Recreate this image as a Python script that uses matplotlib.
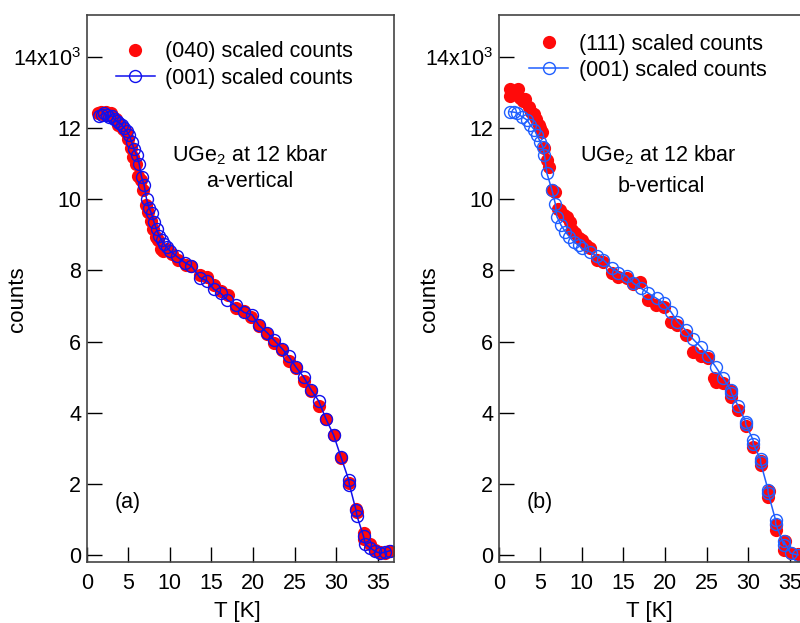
import matplotlib
matplotlib.use("Agg")
import matplotlib.pyplot as plt

plt.rcParams['font.family'] = ['Liberation Sans', 'DejaVu Sans']
plt.rcParams['mathtext.fontset'] = 'custom'
plt.rcParams['mathtext.rm'] = 'Liberation Sans'

# panel (a): a-vertical, counts in units of 1000
t_040 = [1.3, 1.7, 2.0, 2.3, 2.6, 2.9, 3.2, 3.5, 3.8, 4.1, 4.4, 4.7, 5.0, 5.3,
         5.6, 5.9, 6.2, 6.5, 6.8, 7.1, 7.4, 7.7, 8.0, 8.3, 8.6, 8.9, 9.2, 9.6,
         10.2, 11.0, 12.0, 12.6, 13.6, 14.5, 15.3, 16.1, 17.0, 17.9, 18.9, 19.8,
         20.7, 21.7, 22.5, 23.5, 24.3, 25.2, 26.1, 27.0, 27.9, 28.8, 29.7, 30.6,
         31.5, 32.4, 32.5, 33.3, 33.4, 34.1, 34.7, 35.3, 35.9, 36.4]
c_040 = [12.42, 12.44, 12.40, 12.45, 12.40, 12.42, 12.32, 12.25, 12.10, 12.05,
         11.98, 11.90, 11.70, 11.45, 11.20, 11.00, 10.65, 10.55, 10.25, 9.85,
         9.65, 9.40, 9.15, 8.95, 8.85, 8.60, 8.55, 8.60, 8.45, 8.30, 8.15, 8.12,
         7.87, 7.82, 7.60, 7.42, 7.30, 6.95, 6.85, 6.70, 6.45, 6.20, 5.95, 5.75,
         5.45, 5.25, 4.90, 4.60, 4.18, 3.82, 3.38, 2.72, 2.03, 1.30, 1.20, 0.62,
         0.45, 0.30, 0.15, 0.08, 0.05, 0.10]

t_001a = [1.5, 1.8, 2.1, 2.4, 2.7, 3.0, 3.3, 3.6, 3.9, 4.2, 4.5, 4.8, 5.1, 5.4,
          5.7, 6.0, 6.3, 6.6, 6.9, 7.2, 7.5, 7.8, 8.1, 8.4, 8.7, 9.0, 9.3, 9.6,
          10.0, 10.8, 11.8, 12.6, 13.6, 14.5, 15.3, 16.1, 16.9, 17.9, 18.9, 19.9,
          20.7, 21.7, 22.5, 23.5, 24.3, 25.2, 26.1, 27.0, 27.9, 28.8, 29.7, 30.6,
          31.5, 31.6, 32.4, 32.5, 33.3, 33.5, 34.1, 34.7, 35.3, 35.9, 36.5]
c_001a = [12.33, 12.38, 12.42, 12.36, 12.30, 12.35, 12.25, 12.20, 12.15, 12.10,
          12.00, 11.92, 11.80, 11.62, 11.40, 11.25, 11.00, 10.62, 10.40, 10.00,
          9.75, 9.60, 9.35, 9.15, 8.98, 8.85, 8.75, 8.65, 8.55, 8.40, 8.22, 8.12,
          7.80, 7.70, 7.47, 7.36, 7.17, 7.02, 6.82, 6.75, 6.46, 6.25, 6.05, 5.80,
          5.58, 5.27, 5.00, 4.64, 4.33, 3.81, 3.37, 2.74, 2.12, 1.97, 1.25, 1.10,
          0.52, 0.30, 0.20, 0.10, 0.05, 0.08, 0.12]

# panel (b): b-vertical
t_111 = [1.35, 1.4, 1.7, 2.0, 2.3, 2.6, 2.9, 3.2, 3.6, 3.9, 4.2, 4.5, 4.8, 5.0,
         5.2, 5.5, 5.8, 6.1, 6.4, 6.8, 7.1, 7.4, 7.8, 8.2, 8.6, 8.8, 9.2, 9.6,
         10.0, 10.5, 11.0, 11.8, 12.6, 13.6, 14.4, 15.4, 16.2, 17.0, 17.9, 18.9,
         19.9, 20.7, 21.5, 22.5, 23.4, 24.3, 25.2, 25.9, 26.1, 27.0, 27.9, 28.0,
         28.8, 29.7, 30.6, 31.5, 31.6, 32.4, 32.5, 33.3, 33.4, 34.3, 34.4, 35.1,
         36.0]
c_111 = [13.10, 12.90, 12.95, 13.05, 13.10, 12.85, 12.75, 12.83, 12.60, 12.45,
         12.41, 12.25, 12.10, 12.00, 11.90, 11.43, 11.10, 10.90, 10.25, 10.20,
         9.74, 9.70, 9.55, 9.51, 9.37, 9.13, 9.04, 8.90, 8.85, 8.70, 8.62, 8.29,
         8.25, 7.92, 7.82, 7.78, 7.62, 7.68, 7.17, 7.03, 6.98, 6.56, 6.46, 6.18,
         5.71, 5.60, 5.54, 4.97, 4.87, 4.83, 4.45, 4.60, 4.07, 3.62, 3.04, 2.53,
         2.65, 1.64, 1.80, 0.70, 0.85, 0.14, 0.40, 0.05, 0.02]

t_001b = [1.36, 1.8, 2.2, 2.8, 3.4, 3.8, 4.3, 4.6, 5.0, 5.3, 5.5, 5.8, 6.4, 6.8,
          7.0, 7.5, 8.0, 8.5, 9.0, 9.6, 10.0, 11.0, 11.8, 12.6, 13.6, 14.4, 15.4,
          16.2, 17.1, 18.0, 19.0, 19.9, 20.7, 21.5, 22.5, 23.4, 24.3, 25.2, 26.1,
          27.0, 27.9, 28.0, 28.8, 29.7, 29.7, 30.6, 30.6, 31.5, 31.5, 32.4, 32.4,
          33.3, 33.3, 34.3, 34.3, 35.1, 36.0]
c_001b = [12.46, 12.45, 12.43, 12.32, 12.23, 12.09, 11.95, 11.80, 11.62, 11.48,
          11.24, 10.73, 10.26, 9.88, 9.51, 9.27, 9.09, 8.95, 8.81, 8.71, 8.62,
          8.52, 8.40, 8.29, 8.06, 7.94, 7.84, 7.64, 7.50, 7.36, 7.21, 7.07, 6.84,
          6.56, 6.32, 6.06, 5.85, 5.59, 5.29, 4.97, 4.64, 4.55, 4.19, 3.75, 3.68,
          3.23, 3.12, 2.69, 2.60, 1.83, 1.75, 0.98, 0.88, 0.28, 0.38, 0.05, 0.00]

yticks = [0, 2, 4, 6, 8, 10, 12, 14]
ytick_labels = ['0', '2', '4', '6', '8', '10', '12', '14x10$^3$']
xticks = [0, 5, 10, 15, 20, 25, 30, 35]

fig = plt.figure(figsize=(8.0, 6.23), dpi=100)
ax1 = fig.add_axes([0.1084, 0.0984, 0.3845, 0.8775])
ax2 = fig.add_axes([0.6234, 0.0984, 0.3845, 0.8775])


def setup(ax):
    ax.set_xlim(0, 37)
    ax.set_ylim(-0.19, 15.18)
    ax.set_xticks(xticks)
    ax.set_yticks(yticks)
    ax.set_yticklabels(ytick_labels)
    ax.tick_params(direction='in', length=11, width=1.0, labelsize=15.5,
                   top=False, right=False)
    ax.tick_params(axis='x', pad=8)
    ax.tick_params(axis='y', pad=4)
    for s in ax.spines.values():
        s.set_color('#444444')
        s.set_linewidth(1.2)
    ax.set_xlabel('T [K]', fontsize=16)
    ax.set_ylabel('counts', fontsize=16)
    ax.xaxis.set_label_coords(0.49, -0.072)
    ax.yaxis.set_label_coords(-0.19, 0.48)


setup(ax1)
ax1.plot(t_040, c_040, 'o', color='#ff0a0a', ms=9.5, mec='none',
         label='(040) scaled counts')
ax1.plot(t_001a, c_001a, '-o', color='#1010ee', lw=1.1, ms=8.6, mfc='none',
         mew=1.0, label='(001) scaled counts')
ax1.legend(loc='upper left', bbox_to_anchor=(0.095, 0.952), frameon=False,
           fontsize=15.5, handlelength=1.8, handletextpad=0.5, labelspacing=0.25,
           borderpad=0, borderaxespad=0)
ax1.text(0.531, 0.744, 'UGe$_2$ at 12 kbar', transform=ax1.transAxes,
         ha='center', va='center', fontsize=15.5)
ax1.text(0.531, 0.695, 'a-vertical', transform=ax1.transAxes,
         ha='center', va='center', fontsize=15.5)
ax1.text(0.134, 0.109, '(a)', transform=ax1.transAxes,
         ha='center', va='center', fontsize=15.5)

setup(ax2)
ax2.plot(t_111, c_111, 'o', color='#ff0a0a', ms=9.5, mec='none',
         label='(111) scaled counts')
ax2.plot(t_001b, c_001b, '-o', color='#1f5fff', lw=1.1, ms=8.6, mfc='none',
         mew=1.0, label='(001) scaled counts')
ax2.legend(loc='upper left', bbox_to_anchor=(0.10, 0.966), frameon=False,
           fontsize=15.5, handlelength=1.8, handletextpad=0.5, labelspacing=0.25,
           borderpad=0, borderaxespad=0)
ax2.text(0.518, 0.744, 'UGe$_2$ at 12 kbar', transform=ax2.transAxes,
         ha='center', va='center', fontsize=15.5)
ax2.text(0.528, 0.687, 'b-vertical', transform=ax2.transAxes,
         ha='center', va='center', fontsize=15.5)
ax2.text(0.134, 0.109, '(b)', transform=ax2.transAxes,
         ha='center', va='center', fontsize=15.5)

fig.savefig('out.png', dpi=100)
